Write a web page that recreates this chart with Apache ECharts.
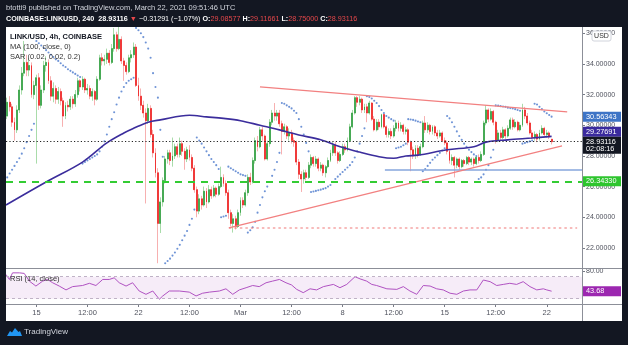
<!DOCTYPE html>
<html><head><meta charset="utf-8">
<script src="https://cdn.jsdelivr.net/npm/echarts@6/dist/echarts.min.js"></script>
<style>html,body{margin:0;padding:0;background:#131722;}#c{width:628px;height:345px;}</style>
</head><body><div id="c"></div>
<script>
// ---------- DATA (bar index 0 = Feb 15 00:00 UTC, 4h bars) ----------
const barStart = -12;
const barEnd = 224; // right edge of time scale (empty space)
// [open, close, low, high]
const candles = [
[30.6,31.5,30.4,31.8],[31.5,31.2,30.9,31.9],[31.2,30.2,29.9,31.4],[30.2,29.7,29.0,30.5],[29.7,31.0,29.5,31.3],
[31.0,32.3,30.8,32.6],[32.3,33.4,32.0,33.8],[33.4,34.1,33.2,35.5],[34.1,33.6,33.2,34.6],[33.6,33.9,33.2,34.4],
[33.9,32.0,31.8,34.1],[32.0,32.6,31.7,32.9],
[32.6,33.1,27.5,33.3],[33.1,31.3,31.0,33.4],[31.3,32.3,31.1,32.6],[32.3,33.9,32.1,34.2],[33.9,34.1,33.5,34.5],
[34.1,32.9,32.7,34.3],[32.9,31.9,31.6,33.2],[31.9,32.4,31.5,32.8],[32.4,31.7,31.4,32.6],[31.7,32.2,31.4,32.5],
[32.2,31.6,31.3,32.4],[31.6,30.6,29.9,31.8],[30.6,31.3,30.4,31.5],[31.3,31.2,30.9,31.6],[31.2,31.7,31.0,31.9],
[31.7,31.4,31.1,31.9],[31.4,32.0,31.2,32.3],[32.0,32.9,31.8,33.1],[32.9,32.5,32.2,33.0],[32.5,33.0,32.3,33.2],
[33.0,32.3,32.1,33.1],[32.3,32.4,32.0,32.7],[32.4,31.9,31.7,32.6],[31.9,32.2,31.6,32.4],[32.2,31.7,31.3,32.3],
[31.7,33.0,31.6,33.2],[33.0,34.4,32.9,34.6],[34.4,34.2,33.9,34.7],[34.2,34.3,33.9,34.6],[34.3,34.7,34.0,35.0],
[34.7,34.1,33.9,34.9],[34.1,35.0,34.0,35.3],[35.0,35.9,34.8,36.35],[35.9,35.0,34.8,36.1],[35.0,35.6,34.9,36.5],
[35.6,34.2,34.0,35.8],[34.2,33.9,32.9,34.4],[33.9,33.5,33.3,34.1],[33.5,34.4,33.4,34.6],[34.4,34.6,34.1,34.9],
[34.6,35.1,34.4,35.4],[35.1,32.6,32.5,35.3],[32.6,31.9,31.6,33.1],[31.9,31.3,31.0,32.4],[31.3,30.8,30.5,31.6],
[30.8,30.3,24.9,31.1],[30.3,31.1,30.1,31.4],[31.1,29.4,29.2,31.3],[29.4,28.2,27.9,29.7],[28.2,26.9,26.6,28.5],
[26.9,23.6,21.0,27.2],[23.6,25.0,22.97,25.3],[25.0,26.4,24.7,26.6],[26.4,27.8,26.2,28.0],[27.8,28.2,27.5,28.4],
[28.2,27.7,27.4,28.4],[27.7,28.0,27.3,29.2],[28.0,28.6,27.8,28.8],[28.6,28.1,27.9,28.8],[28.1,28.8,27.9,29.2],
[28.8,28.3,28.0,29.0],[28.3,27.8,27.1,28.5],[27.8,28.4,27.6,28.6],[28.4,27.9,27.7,28.7],[27.9,27.2,27.0,28.1],
[27.2,25.8,25.6,27.4],[25.8,24.4,24.0,26.0],[24.4,25.2,24.2,25.5],[25.2,24.8,24.5,25.4],[24.8,25.7,24.7,26.0],
[25.7,25.0,24.6,25.9],[25.0,25.8,24.9,26.1],[25.8,25.4,25.2,26.0],[25.4,25.9,25.3,26.1],[25.9,25.5,25.3,26.0],
[25.5,26.0,25.4,26.2],[26.0,26.6,25.9,27.3],[26.6,26.2,26.0,26.8],[26.2,25.6,25.4,26.4],[25.6,24.3,23.9,25.8],
[24.3,23.6,23.4,24.5],[23.6,23.9,23.0,24.2],[23.9,23.4,23.2,24.1],[23.4,24.3,23.3,24.5],[24.3,25.1,24.1,25.3],
[25.1,24.8,24.6,25.3],[24.8,25.6,24.7,25.8],[25.6,26.6,25.4,26.8],[26.6,26.3,26.1,26.9],[26.3,27.7,26.2,27.9],
[27.7,29.0,27.5,29.2],[29.0,28.6,28.3,29.3],[28.6,29.7,28.5,29.9],[29.7,29.3,29.0,29.9],[29.3,27.8,27.7,29.4],
[27.8,28.8,27.7,29.0],[28.8,30.2,28.6,30.4],[30.2,30.8,30.0,31.0],[30.8,30.6,30.3,31.45],[30.6,30.8,30.3,31.0],
[30.8,30.1,29.9,31.0],[30.1,29.6,28.1,30.3],[29.6,29.9,29.4,30.1],[29.9,29.3,29.1,30.0],[29.3,29.5,29.0,29.8],
[29.5,29.0,28.8,29.7],[29.0,28.9,28.6,29.2],[28.9,27.6,27.4,29.0],[27.6,26.8,26.5,27.8],[26.8,26.5,25.65,27.0],
[26.5,26.9,26.2,27.1],[26.9,26.6,26.4,27.1],[26.6,27.4,26.5,27.6],[27.4,27.9,27.2,28.1],[27.9,27.5,27.3,28.0],
[27.5,27.8,27.3,28.0],[27.8,27.2,27.0,27.9],[27.2,27.4,27.0,27.6],[27.4,26.9,26.7,27.5],[26.9,27.3,26.6,27.4],
[27.3,27.7,27.2,27.9],[27.7,28.2,27.6,28.4],[28.2,28.7,28.0,28.9],[28.7,28.2,28.0,28.9],[28.2,27.7,27.5,28.3],
[27.7,28.1,27.6,28.3],[28.1,28.6,28.0,28.8],[28.6,28.4,28.2,28.8],[28.4,29.0,28.3,29.2],[29.0,29.9,28.9,30.1],
[29.9,30.8,29.8,31.0],[30.8,31.8,30.7,31.9],[31.8,31.5,31.2,31.9],[31.5,31.7,31.3,31.9],[31.7,31.0,30.8,31.8],
[31.0,31.2,30.8,31.4],[31.2,30.8,30.2,31.4],[30.8,31.45,30.7,31.6],[31.45,30.4,30.3,31.5],[30.4,29.7,29.6,30.6],
[29.7,30.2,29.6,30.4],[30.2,29.9,29.7,30.4],[29.9,30.7,29.8,30.75],[30.7,29.9,29.8,30.75],[29.9,29.4,29.2,30.0],
[29.4,29.6,29.2,29.8],[29.6,29.3,29.1,29.8],[29.3,29.8,29.2,30.0],[29.8,30.15,29.6,30.35],[30.15,29.8,29.6,30.3],
[29.8,30.0,29.6,30.2],[30.0,29.6,29.4,30.1],[29.6,29.7,29.4,29.9],[29.7,28.9,28.7,29.8],[28.9,28.4,27.0,29.0],
[28.4,28.0,27.8,28.6],[28.0,28.5,27.8,28.7],[28.5,28.1,27.9,28.7],[28.1,28.6,28.0,28.8],[28.6,30.15,28.5,30.3],
[30.15,29.7,29.5,30.6],[29.7,30.0,29.5,30.2],[30.0,29.6,29.4,30.1],[29.6,29.9,29.4,30.0],[29.9,29.5,29.3,30.0],
[29.5,29.3,29.1,29.7],[29.3,29.5,29.2,29.7],[29.5,29.0,28.9,29.6],[29.0,28.85,28.7,29.2],[28.85,28.3,28.1,29.0],
[28.3,27.7,27.5,28.4],[27.7,27.9,27.4,28.1],[27.9,27.4,26.6,28.0],[27.4,27.8,27.2,27.9],[27.8,27.3,27.1,27.9],
[27.3,27.7,27.2,27.8],[27.7,27.5,27.3,27.8],[27.5,27.9,27.4,28.0],[27.9,27.6,27.4,28.0],[27.6,27.8,27.4,27.9],
[27.8,27.5,27.3,27.9],[27.5,27.9,27.4,28.0],[27.9,27.7,27.5,28.1],[27.7,28.1,27.6,28.3],[28.1,30.15,28.0,30.3],
[30.15,31.0,30.0,31.3],[31.0,30.4,30.2,31.1],[30.4,30.9,30.3,31.1],[30.9,30.2,30.0,31.0],[30.2,29.0,28.8,30.3],
[29.0,29.5,28.9,29.7],[29.5,29.2,29.0,29.7],[29.2,29.7,29.1,29.9],[29.7,29.3,29.1,29.8],[29.3,29.8,29.2,30.0],
[29.8,30.35,29.7,30.5],[30.35,29.9,29.7,30.5],[29.9,30.2,29.8,30.4],[30.2,29.7,29.6,30.3],[29.7,30.0,29.6,30.2],
[30.0,31.0,29.9,31.4],[31.0,30.6,30.4,31.2],[30.6,30.15,30.0,30.8],[30.15,29.5,29.4,30.3],[29.5,29.2,29.1,29.7],
[29.2,29.4,29.0,29.6],[29.4,29.1,28.9,29.5],[29.1,29.5,29.0,29.7],[29.5,29.8,29.4,30.0],[29.8,29.4,29.3,29.9],
[29.4,29.5,29.2,29.7],[29.5,29.24407,29.1,29.6],[29.08577,28.93116,28.75,29.11661]
];
// Parabolic SAR (0.02, 0.02, 0.2), one value per bar from barStart
const sarValues = [
26.6,26.85,27.1,27.35,27.6,27.85,28.15,28.5,28.9,29.3,29.7,30.1,
35.5,35.35,35.2,35.05,34.9,34.75,34.6,34.45,34.3,34.2,34.05,33.9,33.8,33.65,33.55,33.45,33.35,33.25,33.15,
27.5,27.6,27.7,27.8,27.9,28.0,28.1,28.3,28.6,28.95,29.4,29.9,30.4,30.85,31.35,31.8,32.2,32.5,32.75,32.9,33.0,33.1,
36.35,36.2,36.0,35.75,35.4,35.0,34.4,33.4,32.5,31.8,29.7,27.95,
21.0,21.15,21.3,21.5,21.7,21.95,22.2,22.5,22.8,23.1,23.5,23.9,24.5,
29.2,29.0,28.8,28.55,28.3,28.05,27.8,27.6,27.4,27.15,
24.0,24.05,24.1,
27.3,27.2,27.1,27.0,26.9,26.8,26.75,26.7,
23.0,23.15,23.35,23.7,24.3,24.8,25.3,25.7,26.0,26.3,26.7,27.1,27.6,28.2,
31.45,31.4,31.3,31.2,31.1,30.95,30.8,30.4,29.9,29.4,28.85,28.3,
25.65,25.68,25.72,25.76,25.8,25.85,25.9,26.0,26.1,26.3,26.5,26.65,26.8,26.95,27.1,27.25,27.4,27.6,27.9,28.3,28.8,29.3,29.8,
31.9,31.85,31.75,31.6,31.45,31.25,31.0,30.8,30.6,30.5,30.4,30.3,
28.5,28.55,28.6,28.7,28.8,
30.4,30.38,30.35,30.3,30.25,30.2,
27.0,27.15,27.35,27.55,27.75,27.9,28.05,28.2,28.35,28.5,
30.6,30.45,30.2,29.9,29.6,29.3,29.05,28.8,28.6,28.4,28.25,28.1,28.0,
26.5,26.6,26.8,27.1,27.4,27.9,28.4,
31.3,31.28,31.25,31.22,31.2,31.15,31.12,31.1,31.05,31.0,30.95,
28.8,28.85,28.9,28.95,29.0,
31.4,31.35,31.2,31.05,30.9,30.78,30.67,30.56343
];
// MA(100, close) read at [bar, value]
const maPoints = [[-12.5,24.8],[4,26.3],[19,27.6],[29,28.85],[36,29.5],[40,29.8],[46,30.2],[51,30.35],[63,30.65],[70,30.55],
[77,30.45],[84,30.3],[92,30.0],[100,29.7],[108,29.37],[117,29.05],[125,28.6],[133,28.25],[141,27.95],[147,27.85],
[152,28.0],[157,28.05],[169,28.4],[180,28.6],[185,28.9],[194,29.05],[204,29.17],[212,29.27691]];
// RSI(14, close) read at [bar, value]
const rsiPoints = [[-12.5,74],[-11.1,65],[-9.8,77],[-7,77],[-5,76],[-2.9,62],[-0.2,53],[2.6,62],[4.6,65],[6.7,59],[9.4,53],
[12.2,46],[14.9,52],[19,54],[21.8,58],[24.5,54],[27.3,65],[30,65],[32,68],[34.1,59],[36.9,53],[39.6,59],[42.3,44],[45.1,38],
[47.9,44],[50.6,29],[52,35],[54.7,44],[58.8,44],[62.9,42],[65.7,35],[68.4,40],[71.2,42],[75.3,44],[78,48],[80.8,38],[83.5,46],
[86.3,50],[89,54],[91.7,52],[94.5,59],[97.2,62],[100,65],[102.7,59],[105,55],[107.1,47],[109.8,41],[112.6,48],[115.3,46],
[118.1,52],[122.2,56],[124.9,50],[127.7,56],[131.1,70],[133.2,66],[135.9,62],[138,56],[140,54],[144.2,48],[148.3,47],[151,52],
[153.7,44],[156.5,38],[159.2,54],[162,53],[164.7,48],[167.4,46],[170.2,40],[173,38],[175.7,44],[178.4,46],[181.2,46],[183.9,64],
[186.7,61],[189.4,54],[192.1,56],[194.8,58],[197.6,56],[200.3,61],[203.1,52],[205.9,46],[208.6,48],[210,46],[212,43.68]];
// drawings
const upperTrend = [[92,32.5],[218.4,30.87]];
const lowerTrend = [[79.2,23.3],[216.3,28.65]];
const redDotted = [[79.2,23.3],[222.5,23.3]];
const blueLevel = [[143.4,27.09],[224.5,27.09]];
const greenLevel = 26.3433;
const lastPrice = 28.93116;
const maLast = 29.27691;
const sarLast = 30.56343;
const rsiLast = 43.68;
const countdown = '02:08:16';
// axes
const timeTickBars = [0,21,42,63,84,105,126,147,168,189,210];
const timeTickLabels = ['15','12:00','22','12:00','Mar','12:00','8','12:00','15','12:00','22'];
const priceTicks = [22,24,26,28,30,32,34,36];
const rsiTicks = [80];

// ---------- CHART ----------
const FONT = '"Liberation Sans", Arial, sans-serif';
const cats = [];
for (let b = barStart; b <= barEnd; b++) cats.push(String(b));
const xMin = barStart - 0.5, xMax = barEnd + 0.5;

const wickData = candles.map(r => [r[0], r[1], r[2], r[3]]);
const bodyData = candles.map(r => [r[0], r[1], Math.min(r[0], r[1]), Math.max(r[0], r[1])]);
const sarData = sarValues.map((v, i) => [barStart + i, v]);

const axisLabelColor = '#50535e';

const option = {
  backgroundColor: '#ffffff',
  animation: false,
  grid: [
    {left: 6, top: 27, width: 576, height: 241},
    {left: 6, top: 269, width: 576, height: 35}
  ],
  xAxis: [
    {type: 'category', gridIndex: 0, data: cats, boundaryGap: true, show: false},
    {type: 'value', gridIndex: 0, min: xMin, max: xMax, show: false},
    {type: 'value', gridIndex: 1, min: xMin, max: xMax, position: 'bottom',
      axisLine: {show: false, onZero: false}, splitLine: {show: false},
      axisTick: {show: true, length: 3, customValues: timeTickBars, lineStyle: {color: '#787b86'}},
      axisLabel: {customValues: timeTickBars, fontSize: 7.5, color: axisLabelColor, fontFamily: FONT, margin: 5,
        formatter: v => timeTickLabels[timeTickBars.indexOf(v)] || ''}}
  ],
  yAxis: [
    {type: 'value', gridIndex: 0, position: 'right', min: 20.69, max: 36.41,
      axisLine: {show: false, onZero: false}, splitLine: {show: false},
      axisTick: {show: true, length: 3, customValues: priceTicks, lineStyle: {color: '#787b86'}},
      axisLabel: {customValues: priceTicks, fontSize: 7, color: axisLabelColor, fontFamily: FONT, margin: 4,
        formatter: v => v.toFixed(5)}},
    {type: 'value', gridIndex: 1, position: 'right', min: 20.4, max: 84,
      axisLine: {show: false, onZero: false}, splitLine: {show: false},
      axisTick: {show: true, length: 3, customValues: rsiTicks, lineStyle: {color: '#787b86'}},
      axisLabel: {customValues: rsiTicks, fontSize: 7, color: axisLabelColor, fontFamily: FONT, margin: 4,
        formatter: v => v.toFixed(2)}}
  ],
  series: [
    {type: 'line', xAxisIndex: 1, yAxisIndex: 0, data: [], symbol: 'none', silent: true,
      markLine: {silent: true, symbol: ['none', 'none'], label: {show: false},
        data: [
          {yAxis: greenLevel, lineStyle: {color: '#33cc33', width: 2, type: [7, 6]}},
          {yAxis: lastPrice, lineStyle: {color: '#222222', width: 1, type: [1.2, 2.2]}}
        ]}},
    {type: 'line', xAxisIndex: 1, yAxisIndex: 0, data: blueLevel, symbol: 'none', silent: true,
      lineStyle: {color: '#86a6dc', width: 1.5}},
    {type: 'line', xAxisIndex: 1, yAxisIndex: 0, data: redDotted, symbol: 'none', silent: true,
      lineStyle: {color: '#f07878', width: 1.2, type: [2.5, 3]}},
    {type: 'candlestick', xAxisIndex: 0, yAxisIndex: 0, data: wickData, barWidth: 1.4, silent: true,
      itemStyle: {color: '#a9dcaa', color0: '#f7b0b0', borderColor: '#a9dcaa', borderColor0: '#f7b0b0', borderWidth: 1}},
    {type: 'candlestick', xAxisIndex: 0, yAxisIndex: 0, data: bodyData, barWidth: 1.4, silent: true,
      itemStyle: {color: '#2f9e3f', color0: '#ee1c1c', borderColor: '#2f9e3f', borderColor0: '#ee1c1c', borderWidth: 0.6}},
    {type: 'line', xAxisIndex: 1, yAxisIndex: 0, data: upperTrend, symbol: 'none', silent: true,
      lineStyle: {color: '#f28080', width: 1.3}},
    {type: 'line', xAxisIndex: 1, yAxisIndex: 0, data: lowerTrend, symbol: 'none', silent: true,
      lineStyle: {color: '#f28080', width: 1.3}},
    {type: 'line', xAxisIndex: 1, yAxisIndex: 0, data: maPoints, symbol: 'none', smooth: 0.35, silent: true,
      lineStyle: {color: '#3b2d9c', width: 1.6}},
    {type: 'scatter', xAxisIndex: 1, yAxisIndex: 0, data: sarData, symbol: 'circle', symbolSize: 2.1, silent: true,
      itemStyle: {color: '#4a78cc'}},
    {type: 'line', xAxisIndex: 2, yAxisIndex: 1, data: rsiPoints, symbol: 'none', silent: true,
      lineStyle: {color: '#b052c2', width: 1},
      markArea: {silent: true, itemStyle: {color: 'rgba(156,39,176,0.09)'}, data: [[{yAxis: 30}, {yAxis: 70}]]},
      markLine: {silent: true, symbol: ['none', 'none'], label: {show: false},
        lineStyle: {color: '#bfb2c6', width: 1, type: [3, 3]}, data: [{yAxis: 70}, {yAxis: 30}]}}
  ]
};

const chart = echarts.init(document.getElementById('c'), null, {width: 628, height: 345});
chart.setOption(option);

const py = v => chart.convertToPixel({yAxisIndex: 0}, v);
const ry = v => chart.convertToPixel({yAxisIndex: 1}, v);
const dark = '#131722';
const els = [];
// frame
els.push({type: 'rect', z: 100, shape: {x: 0, y: 0, width: 628, height: 27}, style: {fill: dark}});
els.push({type: 'rect', z: 100, shape: {x: 0, y: 321, width: 628, height: 24}, style: {fill: dark}});
els.push({type: 'rect', z: 100, shape: {x: 0, y: 0, width: 6, height: 345}, style: {fill: dark}});
els.push({type: 'rect', z: 100, shape: {x: 622, y: 0, width: 6, height: 345}, style: {fill: dark}});
// pane separators and price axis line
els.push({type: 'line', z: 50, shape: {x1: 6, y1: 268.5, x2: 622, y2: 268.5}, style: {stroke: '#8c8f98', lineWidth: 1}});
els.push({type: 'line', z: 50, shape: {x1: 6, y1: 304.5, x2: 622, y2: 304.5}, style: {stroke: '#8c8f98', lineWidth: 1}});
els.push({type: 'line', z: 50, shape: {x1: 582.5, y1: 27, x2: 582.5, y2: 321}, style: {stroke: '#8c8f98', lineWidth: 1}});
// header
els.push({type: 'text', z: 101, x: 6, y: 8, style: {text: 'btotti9 published on TradingView.com, March 22, 2021 09:51:46 UTC',
  fill: '#d1d4dc', font: '7.5px ' + FONT, verticalAlign: 'middle'}});
els.push({type: 'text', z: 101, x: 6, y: 19.5, style: {
  text: '{b|COINBASE:LINKUSD, 240}  {b|28.93116} {r|▼} {w|\u22120.31291 (\u22121.07%)} {b|O:}{r|29.08577} {b|H:}{r|29.11661} {b|L:}{r|28.75000} {b|C:}{r|28.93116}',
  verticalAlign: 'middle', font: '7.2px ' + FONT, fill: '#ffffff',
  rich: {
    b: {fill: '#ffffff', font: 'bold 7.2px ' + FONT},
    w: {fill: '#ffffff', font: '7.2px ' + FONT},
    r: {fill: '#e8484b', font: '7.2px ' + FONT}
  }}});
// legend
els.push({type: 'text', z: 60, x: 10, y: 36.5, style: {text: 'LINK/USD, 4h, COINBASE', fill: '#131722', font: 'bold 7.5px ' + FONT, verticalAlign: 'middle'}});
els.push({type: 'text', z: 60, x: 10, y: 47, style: {text: 'MA (100, close, 0)', fill: '#333', font: '7.5px ' + FONT, verticalAlign: 'middle'}});
els.push({type: 'text', z: 60, x: 10, y: 57, style: {text: 'SAR (0.02, 0.02, 0.2)', fill: '#333', font: '7.5px ' + FONT, verticalAlign: 'middle'}});
els.push({type: 'text', z: 60, x: 10, y: 279, style: {text: 'RSI (14, close)', fill: '#333', font: '7.5px ' + FONT, verticalAlign: 'middle'}});
// USD badge
els.push({type: 'rect', z: 70, shape: {x: 592, y: 31, width: 19, height: 10, r: 2}, style: {fill: '#fff', stroke: '#d1d4dc', lineWidth: 1}});
els.push({type: 'text', z: 71, x: 601.5, y: 36, style: {text: 'USD', fill: '#333', font: '7px ' + FONT, align: 'center', verticalAlign: 'middle'}});
// price tags
function tag(cy, text, bg) {
  els.push({type: 'rect', z: 80, shape: {x: 583, y: cy - 5, width: 38, height: 10}, style: {fill: bg}});
  els.push({type: 'text', z: 81, x: 586, y: cy, style: {text: text, fill: '#fff', font: '7.3px ' + FONT, verticalAlign: 'middle'}});
}
const yLast = py(lastPrice);
const blackTop = yLast - 5;
tag(py(sarLast), sarLast.toFixed(5), '#3d74c6');
let yMa = py(maLast);
if (yMa + 5 > blackTop) yMa = blackTop - 5;
tag(yMa, maLast.toFixed(5), '#3a2a9e');
els.push({type: 'rect', z: 80, shape: {x: 583, y: blackTop, width: 38, height: 17}, style: {fill: '#131722'}});
els.push({type: 'text', z: 81, x: 586, y: yLast, style: {text: lastPrice.toFixed(5), fill: '#fff', font: '7.3px ' + FONT, verticalAlign: 'middle'}});
els.push({type: 'text', z: 81, x: 586, y: yLast + 7.5, style: {text: countdown, fill: '#fff', font: '7.3px ' + FONT, verticalAlign: 'middle'}});
tag(py(greenLevel), greenLevel.toFixed(5), '#2ec52e');
tag(ry(rsiLast), rsiLast.toFixed(2), '#9c27b0');
// footer logo
els.push({type: 'polygon', z: 101, shape: {points: [[7,336],[10,331],[12,332.5],[15,328],[18.5,332],[20,331],[22,336]]}, style: {fill: '#2196f3'}});
els.push({type: 'text', z: 101, x: 24, y: 332, style: {text: 'TradingView', fill: '#d1d4dc', font: '8px ' + FONT, verticalAlign: 'middle'}});

chart.setOption({graphic: {elements: els}});
</script>
</body></html>
